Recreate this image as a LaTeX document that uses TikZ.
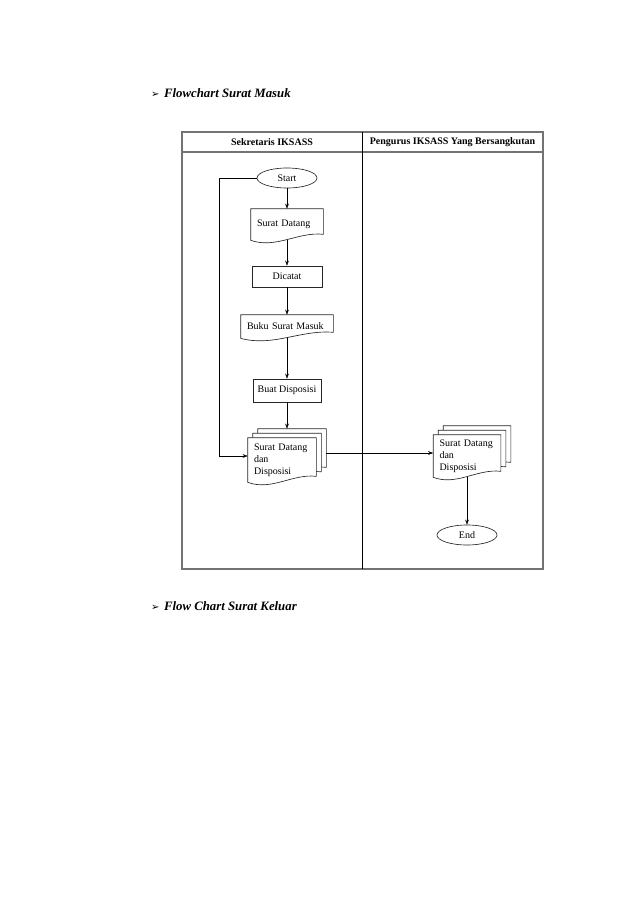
\documentclass[tikz,border=0pt]{standalone}
\usepackage{fontspec}
\setmainfont{Liberation Serif}
\newfontfamily\dingfont{DejaVu Sans}
\usetikzlibrary{shapes.geometric,shadows,arrows.meta}

% document shape: rectangle with a wavy bottom edge
\makeatletter
\pgfdeclareshape{docpage}{
  \inheritsavedanchors[from=rectangle]
  \inheritanchorborder[from=rectangle]
  \inheritanchor[from=rectangle]{center}
  \inheritanchor[from=rectangle]{north}
  \inheritanchor[from=rectangle]{south}
  \inheritanchor[from=rectangle]{east}
  \inheritanchor[from=rectangle]{west}
  \inheritanchor[from=rectangle]{north east}
  \inheritanchor[from=rectangle]{north west}
  \inheritanchor[from=rectangle]{south east}
  \inheritanchor[from=rectangle]{south west}
  \backgroundpath{
    \southwest \pgf@xa=\pgf@x \pgf@ya=\pgf@y
    \northeast \pgf@xb=\pgf@x \pgf@yb=\pgf@y
    \edef\docL{\the\pgf@xa}\edef\docR{\the\pgf@xb}
    \edef\docB{\the\pgf@ya}\edef\docT{\the\pgf@yb}
    \pgf@xc=\pgf@xb \advance\pgf@xc by-\pgf@xa
    \pgf@xc=0.35\pgf@xc \advance\pgf@xc by\pgf@xa \edef\docCa{\the\pgf@xc}
    \pgf@xc=\pgf@xb \advance\pgf@xc by-\pgf@xa
    \pgf@xc=0.65\pgf@xc \advance\pgf@xc by\pgf@xa \edef\docCb{\the\pgf@xc}
    \pgf@yc=\pgf@ya \advance\pgf@yc by 6pt \edef\docRy{\the\pgf@yc}
    \pgf@yc=\pgf@ya \advance\pgf@yc by 8.8pt \edef\docUp{\the\pgf@yc}
    \pgf@yc=\pgf@ya \advance\pgf@yc by -8.8pt \edef\docDn{\the\pgf@yc}
    \pgfpathmoveto{\pgfqpoint{\docL}{\docT}}
    \pgfpathlineto{\pgfqpoint{\docR}{\docT}}
    \pgfpathlineto{\pgfqpoint{\docR}{\docRy}}
    \pgfpathcurveto{\pgfqpoint{\docCb}{\docUp}}{\pgfqpoint{\docCa}{\docDn}}{\pgfqpoint{\docL}{\docB}}
    \pgfpathclose
  }
}
\makeatother

\begin{document}
\begin{tikzpicture}[
    x=1pt, y=-1pt, >={Stealth[length=5pt,width=3.6pt]},
    box/.style={draw=black!85, fill=white, line width=0.65pt,
                font=\fontsize{10}{11.8}\selectfont, inner sep=0pt},
    term/.style={box, ellipse, minimum width=60pt, minimum height=20pt},
    proc/.style={box, rectangle, minimum width=70pt, minimum height=21pt},
    doc/.style={box, docpage, align=left, inner xsep=6pt},
    docs/.style={doc, copy shadow={shadow xshift=10pt, shadow yshift=9pt},
                 copy shadow={shadow xshift=5pt, shadow yshift=4.5pt}},
    lane/.style={font=\bfseries\fontsize{10}{12}\selectfont},
    head/.style={font=\bfseries\itshape\fontsize{12.8}{15}\selectfont,
                 anchor=west, inner sep=0pt},
    frame/.style={draw=black!55, line width=1.1pt}]
  \useasboundingbox (0,0) rectangle (638,907);
  % headings
  \node[head] (h1) at (151,93) {{\dingfont\fontsize{10}{10}\selectfont ➢}\hspace{4.5pt}Flowchart Surat Masuk};
  \node[head] (h2) at (151,606) {{\dingfont\fontsize{10}{10}\selectfont ➢}\hspace{4.5pt}Flow Chart Surat Keluar};
  % swimlanes
  \draw[frame] (182,132) rectangle (543,569);
  \draw[frame] (182,152) -- (543,152);
  \draw[line width=0.7pt] (362,132) -- (362,569);
  \node[lane] (l1) at (272,142) {Sekretaris IKSASS};
  \node[lane] (l2) at (452.5,142) {Pengurus IKSASS Yang Bersangkutan};
  % lane 1: top to bottom
  \node[term] (st) at (287,178) {Start};
  \node[doc, text width=60pt, minimum height=31pt] (sd) at (287,224.5) {Surat Datang};
  \node[proc] (dc) at (287,276.5) {Dicatat};
  \node[doc, text width=80pt, minimum height=23pt] (bk) at (287,326.5) {Buku Surat Masuk};
  \node[proc, minimum width=68pt, minimum height=23pt] (bd) at (287,390.5) {Buat Disposisi};
  \node[docs, text width=56pt, minimum height=44pt] (md) at (282,460) {Surat Datang\\dan\\Disposisi};
  % lane 2
  \node[docs, text width=55pt, minimum height=42pt] (rd) at (467,456) {Surat Datang\\dan\\Disposisi};
  \node[term] (en) at (467,535) {End};
  \coordinate (lp) at (219,178);
  \draw[->] (st) -- (sd); \draw[->] (sd) -- (dc); \draw[->] (dc) -- (bk); \draw[->] (bk) -- (bd);
  \draw[->] (bd) -- ([xshift=5pt,yshift=9pt]md.north);
  \draw[->] (st.west) -- (lp) |- ([yshift=4pt]md.west);
  \draw[->] ([xshift=10pt,yshift=7pt]md.east) -- ([yshift=3pt]rd.west);
  \draw[->] (rd) -- (en);
\end{tikzpicture}
\end{document}
